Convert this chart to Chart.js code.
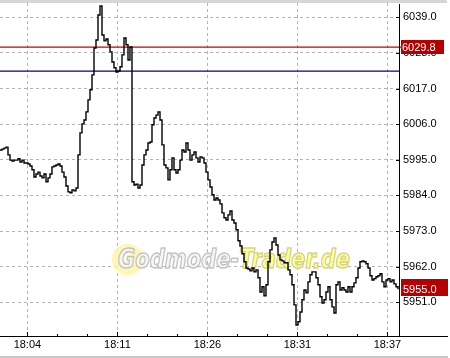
<!DOCTYPE html>
<html><head><meta charset="utf-8">
<style>html,body{margin:0;padding:0;background:#fff;overflow:hidden}canvas{display:block}</style>
<script src="https://cdn.jsdelivr.net/npm/chart.js@4/dist/chart.umd.min.js"></script>
</head><body>
<canvas id="c" width="450" height="358"></canvas>
<script>
// ---- data ----
const priceValues = [
5998.0,5998.3,5998.6,5998.9,5996.5,5994.9,5994.6,5994.9,5994.9,5995.3,
5994.3,5994.9,5994.0,5994.0,5993.7,5993.1,5991.9,5989.7,5990.6,5991.2,
5990.0,5989.4,5990.6,5988.2,5989.4,5990.6,5992.8,5993.1,5993.4,5993.7,
5993.1,5991.2,5989.7,5986.9,5985.1,5984.8,5985.7,5985.4,5986.3,5996.5,
6003.3,6006.1,6007.3,6009.8,6013.5,6016.6,6021.2,6029.5,6032.0,6039.7,
6042.5,6033.5,6031.7,6032.3,6030.5,6028.3,6025.2,6023.4,6022.1,6022.4,
6023.7,6027.4,6032.6,6030.5,6025.8,6029.8,5988.2,5987.2,5987.5,5986.3,
5987.2,5993.4,5996.5,5998.0,6000.2,6000.5,6005.8,6007.9,6008.8,6009.8,
6007.3,5999.6,5993.4,5992.5,5988.8,5991.9,5995.6,5991.9,5990.9,5991.9,
5994.9,5998.0,5997.4,6000.2,5998.0,5994.9,5996.5,5997.4,5995.6,5994.3,
5995.9,5995.6,5994.0,5991.2,5988.8,5986.6,5984.2,5982.6,5983.2,5982.6,
5981.4,5978.6,5977.1,5976.4,5978.0,5979.2,5976.4,5975.5,5973.4,5970.0,
5968.4,5966.0,5963.5,5961.6,5961.3,5960.7,5961.6,5960.4,5961.0,5958.6,
5954.2,5955.8,5953.0,5956.4,5963.5,5967.2,5969.6,5970.9,5968.7,5965.6,
5964.1,5963.8,5963.2,5963.2,5961.0,5959.5,5956.4,5950.2,5944.0,5945.0,
5948.0,5951.8,5954.8,5953.9,5957.3,5959.5,5960.4,5960.4,5958.6,5956.4,
5952.7,5950.8,5951.8,5954.2,5955.8,5951.8,5949.6,5947.7,5956.4,5957.3,
5954.8,5955.5,5954.8,5954.2,5955.8,5954.2,5955.8,5957.0,5958.6,5961.6,
5963.5,5963.8,5963.5,5962.9,5961.6,5959.2,5957.9,5958.3,5958.9,5959.2,
5959.8,5957.3,5955.8,5957.9,5958.3,5957.3,5957.9,5956.7,5955.8,5955.0
];
const yTickValues = [5951, 5962, 5973, 5984, 5995, 6006, 6017, 6028, 6039];
const xTickPositions = [13.7, 58.7, 103.7, 148.7, 193.7];
const xTickLabels = ['18:04', '18:11', '18:26', '18:31', '18:37'];
const xMinorTickPositions = [28.7, 43.7, 73.7, 88.7, 118.7, 133.7, 163.7, 178.7];
const redLevel = 6029.8;
const blueLevel = 6022.4;
const lastPrice = 5955.0;
const yMin = 5940.6, yMax = 6043.4;
const xMin = 0, xMax = 199.5;
const watermarkPartA = 'Godmode-';
const watermarkPartB = 'Trader.de';

const FONT = '"Liberation Sans", Arial, sans-serif';

const decor = {
  id: 'decor',
  beforeDatasetsDraw(chart) {
    const ctx = chart.ctx, ca = chart.chartArea;
    const ys = chart.scales.y;
    // watermark
    ctx.save();
    const g = ctx.createRadialGradient(124, 255, 2, 128, 260, 17);
    g.addColorStop(0, 'rgba(255,255,240,1)');
    g.addColorStop(0.45, 'rgba(255,248,170,1)');
    g.addColorStop(0.85, 'rgba(255,245,160,0.8)');
    g.addColorStop(1, 'rgba(255,250,200,0)');
    ctx.fillStyle = g;
    ctx.beginPath(); ctx.arc(128, 260, 17, 0, Math.PI * 2); ctx.fill();
    ctx.font = 'italic bold 27px "DejaVu Sans", sans-serif';
    const wA = ctx.measureText(watermarkPartA).width;
    const wB = ctx.measureText(watermarkPartB).width;
    const sx = 232 / (wA + wB);
    ctx.translate(118, 268);
    ctx.scale(sx, 1);
    ctx.textBaseline = 'alphabetic';
    ctx.lineJoin = 'round';
    ctx.lineWidth = 1.6;
    ctx.fillStyle = '#f7f7f7';
    ctx.strokeStyle = '#c4c4c4';
    ctx.fillText(watermarkPartA, 0, 0);
    ctx.strokeText(watermarkPartA, 0, 0);
    ctx.fillStyle = '#ffff8c';
    ctx.strokeStyle = '#d6d290';
    ctx.fillText(watermarkPartB, wA, 0);
    ctx.strokeText(watermarkPartB, wA, 0);
    ctx.restore();
    // reference lines
    ctx.save();
    ctx.lineWidth = 1.3;
    ctx.strokeStyle = '#c80000';
    let p = ys.getPixelForValue(redLevel);
    ctx.beginPath(); ctx.moveTo(ca.left, p); ctx.lineTo(ca.right + 2, p); ctx.stroke();
    ctx.strokeStyle = '#00008c';
    p = ys.getPixelForValue(blueLevel);
    ctx.beginPath(); ctx.moveTo(ca.left, p); ctx.lineTo(ca.right, p); ctx.stroke();
    ctx.restore();
  },
  afterDraw(chart) {
    const ctx = chart.ctx, ca = chart.chartArea;
    const xs = chart.scales.x, ys = chart.scales.y;
    ctx.save();
    // frame bands
    ctx.fillStyle = '#d6d6d6';
    ctx.fillRect(0, 0, 447, 3);
    ctx.fillStyle = '#c8c8c8';
    ctx.fillRect(0, 356, 448, 2);
    // axis lines
    ctx.strokeStyle = '#000';
    ctx.lineWidth = 1;
    ctx.beginPath();
    ctx.moveTo(0, Math.round(ca.bottom) + 0.5); ctx.lineTo(448, Math.round(ca.bottom) + 0.5);
    ctx.moveTo(Math.round(ca.right) + 0.5, 4); ctx.lineTo(Math.round(ca.right) + 0.5, ca.bottom);
    ctx.stroke();
    // tick marks (inward)
    ctx.beginPath();
    xTickPositions.forEach(v => {
      const x = Math.round(xs.getPixelForValue(v)) + 0.5;
      ctx.moveTo(x, ca.bottom - 4); ctx.lineTo(x, ca.bottom);
    });
    xMinorTickPositions.forEach(v => {
      const x = Math.round(xs.getPixelForValue(v)) + 0.5;
      ctx.moveTo(x, ca.bottom - 2); ctx.lineTo(x, ca.bottom);
    });
    yTickValues.forEach(v => {
      const y = Math.round(ys.getPixelForValue(v)) + 0.5;
      ctx.moveTo(ca.right - 3, y); ctx.lineTo(ca.right + 1, y);
    });
    ctx.stroke();
    // price boxes
    ctx.font = '11px ' + FONT;
    ctx.textBaseline = 'middle';
    ctx.textAlign = 'left';
    let p = ys.getPixelForValue(redLevel);
    ctx.fillStyle = '#b40000';
    ctx.fillRect(ca.right + 2, Math.round(p) - 7, 43, 14);
    ctx.fillStyle = '#fff';
    ctx.fillText(redLevel.toFixed(1), ca.right + 3, p + 0.5);
    p = ys.getPixelForValue(lastPrice);
    ctx.fillStyle = '#b40000';
    ctx.fillRect(ca.right + 2, Math.round(p) - 10, 47, 17);
    ctx.fillStyle = '#fff';
    ctx.fillText(lastPrice.toFixed(1), ca.right + 4, p + 0.5);
    ctx.restore();
  }
};

new Chart(document.getElementById('c'), {
  type: 'line',
  data: {
    datasets: [{
      data: priceValues.map((v, i) => ({ x: i, y: v })),
      borderColor: '#000',
      borderWidth: 1.4,
      pointRadius: 0,
      stepped: true,
      fill: false
    }]
  },
  options: {
    responsive: false,
    animation: false,
    events: [],
    layout: { padding: { top: 3, left: 0, right: 0, bottom: 0 } },
    plugins: { legend: { display: false }, tooltip: { enabled: false } },
    scales: {
      x: {
        type: 'linear', min: xMin, max: xMax, position: 'bottom',
        afterBuildTicks: s => { s.ticks = xTickPositions.map(v => ({ value: v })); },
        afterFit: s => { s.height = 22; s.paddingLeft = 0; s.paddingRight = 0; },
        ticks: {
          autoSkip: false, maxRotation: 0, padding: 2,
          color: '#000', font: { family: FONT, size: 11 },
          callback: (v, i) => xTickLabels[i]
        },
        grid: { color: '#b4b4b4', lineWidth: 1, drawTicks: false },
        border: { display: false, dash: [3, 3] }
      },
      y: {
        type: 'linear', min: yMin, max: yMax, position: 'right',
        afterBuildTicks: s => { s.ticks = yTickValues.map(v => ({ value: v })); },
        afterFit: s => { s.width = 51; s.paddingTop = 0; s.paddingBottom = 0; },
        ticks: {
          autoSkip: false, padding: 4,
          color: '#000', font: { family: FONT, size: 11 },
          callback: v => Number(v).toFixed(1)
        },
        grid: { color: '#b4b4b4', lineWidth: 1, drawTicks: false },
        border: { display: false, dash: [3, 3] }
      }
    }
  },
  plugins: [decor]
});
</script>
</body></html>
